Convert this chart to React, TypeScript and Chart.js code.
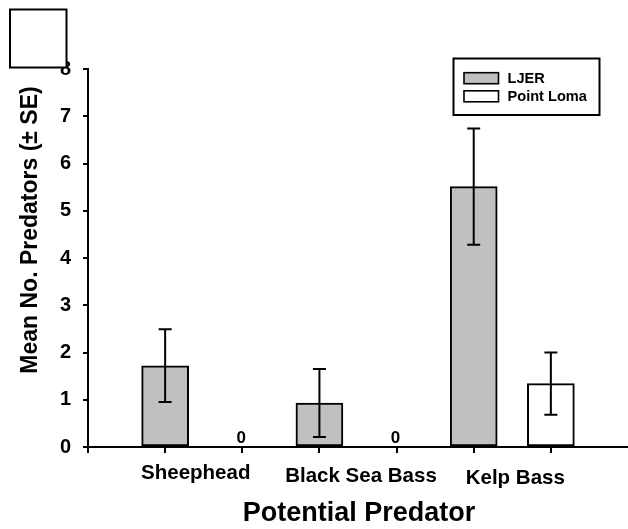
import React, { useEffect, useRef } from 'react';
import { Chart, registerables } from 'chart.js';

Chart.register(...registerables);

// ---- data ----
const categories = ['Sheephead', 'Black Sea Bass', 'Kelp Bass'];
const seriesNames = ['LJER', 'Point Loma'];
const ljerMeans = [1.72, 0.93, 5.51];
const ljerSE = [0.77, 0.72, 1.23];
const lomaMeans = [0, 0, 1.34];
const lomaSE = [0, 0, 0.66];
const yMin = 0;
const yMax = 8;
const yStep = 1;
const xTitle = 'Potential Predator';
const yTitle = 'Mean No. Predators (± SE)';

const FONT = '"Liberation Sans", Arial, Helvetica, sans-serif';
const LJER_FILL = '#c0c0c0';
const LOMA_FILL = '#ffffff';

// small layout nudges for category labels (dx, baseline below axis)
const labelDx = [-8, 3, 3];
const labelDy = [32, 34.7, 37.3];

const annotations = {
  id: 'annotations',
  afterDatasetsDraw(chart: any) {
    const ctx = chart.ctx;
    const y = chart.scales.y;
    ctx.save();
    chart.data.datasets.forEach((ds: any, di: number) => {
      const meta = chart.getDatasetMeta(di);
      ds.data.forEach((pt: any, i: number) => {
        const bar = meta.data[i];
        if (!bar) return;
        const cx = bar.x;
        const se = ds.errors[i];
        if (pt.y === 0) {
          ctx.fillStyle = '#000';
          ctx.font = `bold 17px ${FONT}`;
          ctx.textAlign = 'center';
          ctx.textBaseline = 'alphabetic';
          ctx.fillText('0', cx - 1, y.getPixelForValue(0) - 4);
        } else if (se > 0) {
          const yt = y.getPixelForValue(pt.y + se);
          const yb = y.getPixelForValue(pt.y - se);
          ctx.strokeStyle = '#000';
          ctx.lineWidth = 2;
          ctx.beginPath();
          ctx.moveTo(cx, yt);
          ctx.lineTo(cx, yb);
          ctx.moveTo(cx - 6.5, yt);
          ctx.lineTo(cx + 6.5, yt);
          ctx.moveTo(cx - 6.5, yb);
          ctx.lineTo(cx + 6.5, yb);
          ctx.stroke();
        }
      });
    });
    ctx.restore();
  },
  afterDraw(chart: any) {
    const ctx = chart.ctx;
    const x = chart.scales.x;
    const y = chart.scales.y;
    const y0 = y.getPixelForValue(0);
    ctx.save();
    ctx.fillStyle = '#000';

    // category labels
    ctx.font = `bold 20.5px ${FONT}`;
    ctx.textAlign = 'center';
    ctx.textBaseline = 'alphabetic';
    categories.forEach((c, i) => {
      const cx = (x.getPixelForValue(2 * i + 1) + x.getPixelForValue(2 * i + 2)) / 2;
      ctx.fillText(c, cx + labelDx[i], y0 + labelDy[i]);
    });

    // x title
    ctx.font = `bold 27px ${FONT}`;
    ctx.fillText(xTitle, (chart.chartArea.left + chart.chartArea.right) / 2 + 1, y0 + 73.5);

    // y title
    ctx.save();
    ctx.translate(37, 230);
    ctx.rotate(-Math.PI / 2);
    ctx.font = `bold 23px ${FONT}`;
    ctx.textAlign = 'center';
    ctx.fillText(yTitle, 0, 0);
    ctx.restore();

    // legend
    ctx.lineWidth = 2;
    ctx.strokeStyle = '#000';
    ctx.fillStyle = '#fff';
    ctx.fillRect(453.5, 58.5, 146, 56.5);
    ctx.strokeRect(453.5, 58.5, 146, 56.5);
    const rows = [78.2, 96.3];
    chart.data.datasets.forEach((ds: any, di: number) => {
      const cy = rows[di];
      ctx.fillStyle = ds.backgroundColor;
      ctx.lineWidth = 1.6;
      ctx.fillRect(464, cy - 5.5, 34.5, 11);
      ctx.strokeRect(464, cy - 5.5, 34.5, 11);
      ctx.fillStyle = '#000';
      ctx.font = `bold 14.6px ${FONT}`;
      ctx.textAlign = 'left';
      ctx.textBaseline = 'middle';
      ctx.fillText(ds.label, 507.5, cy + 0.5);
    });

    // empty frame at top-left
    ctx.lineWidth = 2;
    ctx.fillStyle = '#fff';
    ctx.fillRect(10, 9.5, 56.5, 58);
    ctx.strokeRect(10, 9.5, 56.5, 58);
    ctx.restore();
  },
};

export default function App() {
  const ref = useRef<HTMLCanvasElement | null>(null);
  useEffect(() => {
    if (!ref.current) return;
    const ljerData = ljerMeans.map((v, i) => ({ x: 2 * i + 1, y: v }));
    const lomaData = lomaMeans.map((v, i) => ({ x: 2 * i + 2, y: v }));
    const chart = new Chart(ref.current, {
      type: 'bar',
      data: {
        datasets: [
          {
            label: seriesNames[0],
            data: ljerData,
            backgroundColor: LJER_FILL,
            borderColor: '#000',
            borderWidth: 2,
            borderSkipped: false,
            errors: ljerSE,
          } as any,
          {
            label: seriesNames[1],
            data: lomaData,
            backgroundColor: LOMA_FILL,
            borderColor: '#000',
            borderWidth: 2,
            borderSkipped: false,
            errors: lomaSE,
          } as any,
        ],
      },
      options: {
        responsive: false,
        animation: false,
        events: [],
        layout: { padding: { top: 69, left: 0, right: 0, bottom: 0 } },
        datasets: { bar: { grouped: false, barThickness: 47 } } as any,
        plugins: { legend: { display: false }, tooltip: { enabled: false } },
        scales: {
          x: {
            type: 'linear',
            min: 0,
            max: 7,
            offset: false,
            ticks: { stepSize: 1, display: false },
            grid: { offset: false, drawOnChartArea: false, drawTicks: true, tickLength: 6, color: '#000', lineWidth: 2 },
            border: { color: '#000', width: 2 },
            afterBuildTicks: (s: any) => {
              s.ticks = s.ticks.filter((t: any) => t.value < 7);
            },
            afterFit: (s: any) => {
              s.height = 82;
            },
          },
          y: {
            type: 'linear',
            min: yMin,
            max: yMax,
            ticks: {
              stepSize: yStep,
              color: '#000',
              padding: 12,
              font: { family: FONT, size: 20, weight: 'bold' },
            },
            grid: { drawOnChartArea: false, drawTicks: true, tickLength: 5, color: '#000', lineWidth: 2 },
            border: { color: '#000', width: 2 },
            afterFit: (s: any) => {
              s.width = 88;
            },
          },
        },
      } as any,
      plugins: [annotations],
    });
    return () => chart.destroy();
  }, []);
  return (
    <div style={{ position: 'absolute', left: 0, top: 0, width: 628, height: 529, background: '#fff' }}>
      <canvas ref={ref} width={628} height={529} style={{ display: 'block' }} />
    </div>
  );
}
